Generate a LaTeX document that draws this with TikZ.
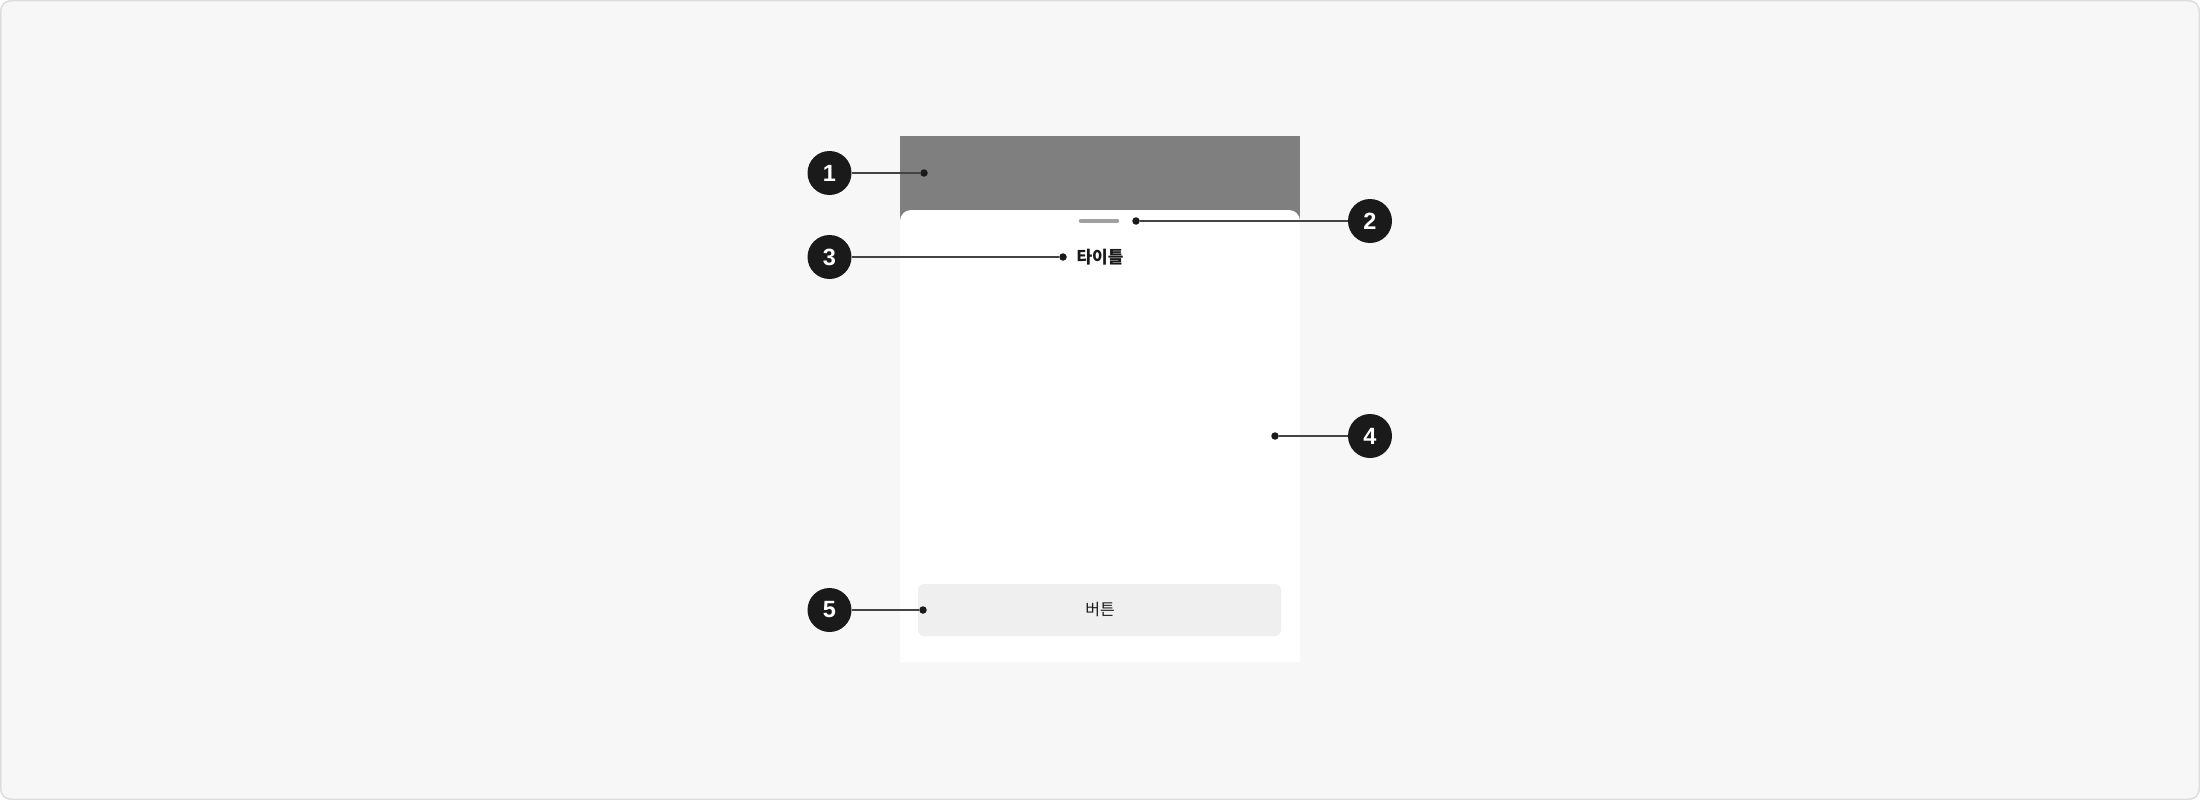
\documentclass[tikz,border=0pt]{standalone}
\usepackage{fontspec}
\setmainfont{Noto Sans CJK KR}
\newfontfamily\krfont{Noto Sans CJK KR}
\newfontfamily\numfont{Liberation Sans}
\usetikzlibrary{calc}
\definecolor{bgfill}{HTML}{F7F7F7}
\definecolor{bgline}{HTML}{DDDDDD}
\definecolor{dim}{HTML}{7F7F7F}
\definecolor{handlec}{HTML}{A0A0A0}
\definecolor{btnfill}{HTML}{EFEFEF}
\definecolor{ink}{HTML}{1A1A1A}
\definecolor{leader}{HTML}{444444}
\tikzset{
  badge/.style={circle, fill=ink, minimum size=44pt, inner sep=0pt, text=white, font=\numfont\bfseries\fontsize{23.5}{24}\selectfont},
  anchordot/.style={circle, fill=ink, minimum size=7.5pt, inner sep=0pt},
  leaderline/.style={draw=leader, line width=1.6pt},
}
\begin{document}
\begin{tikzpicture}[x=1pt,y=-1pt]
\useasboundingbox (0,0) rectangle (2200,800);
% background
\draw[fill=bgfill, draw=bgline, line width=1.5pt, rounded corners=10pt] (0.75,0.75) rectangle (2199.25,799.25);
% dimmed area
\fill[dim] (900,136) rectangle (1300,230);
% sheet
\fill[white, rounded corners=11pt] (900,662) -- (900,210) -- (1300,210) -- (1300,662) [sharp corners] -- cycle;
\fill[white] (900,640) rectangle (1300,662);
% handle
\draw[handlec, line width=4.5pt, line cap=round] (1081,221) -- (1117,221);
% title
\node[font=\krfont\bfseries\fontsize{17}{17}\selectfont, text=ink, inner sep=0pt] (title) at (1100,257) {타이틀};
% button
\node[fill=btnfill, rounded corners=6pt, minimum width=363pt, minimum height=52pt, inner sep=0pt] (btn) at (1099.5,610) {};
\node[font=\krfont\fontsize{16}{16}\selectfont, text=ink, inner sep=0pt] (btntext) at (1100,610) {버튼};
% dots
\node[anchordot] (d1) at (924,173) {};
\node[anchordot] (d2) at (1136,221) {};
\node[anchordot] (d3) at (1063,257) {};
\node[anchordot] (d4) at (1275,436) {};
\node[anchordot] (d5) at (923,610) {};
% badges
\node[badge] (b1) at (829.5,173) {1};
\node[badge] (b2) at (1370,221) {2};
\node[badge] (b3) at (829.5,257) {3};
\node[badge] (b4) at (1370,436) {4};
\node[badge] (b5) at (829.5,610) {5};
% leaders
\draw[leaderline] (b1) -- (d1);
\draw[leaderline] (b2) -- (d2);
\draw[leaderline] (b3) -- (d3);
\draw[leaderline] (b4) -- (d4);
\draw[leaderline] (b5) -- (d5);
\end{tikzpicture}
\end{document}
